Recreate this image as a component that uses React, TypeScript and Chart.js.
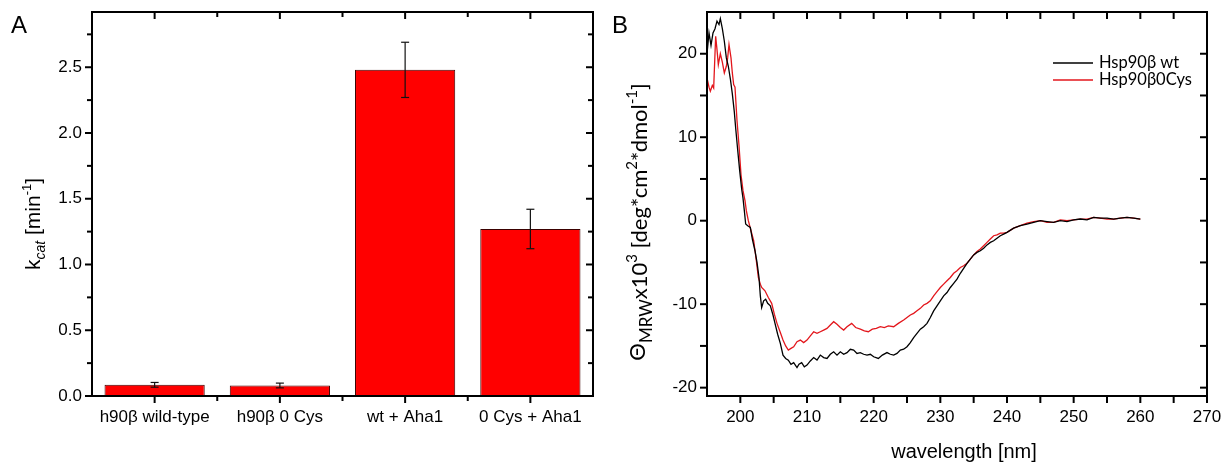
import React, { useEffect, useRef } from "react";
import { Chart, registerables } from "chart.js";

Chart.register(...registerables);

// ---------- Panel A data ----------
const categories = ["h90β wild-type", "h90β 0 Cys", "wt + Aha1", "0 Cys + Aha1"];
const kcatValues = [0.085, 0.08, 2.48, 1.27];
const kcatErrors = [0.018, 0.018, 0.21, 0.15];
const kcatMajorTicks = [0, 0.5, 1.0, 1.5, 2.0, 2.5];
const kcatMinorTicks = [0.25, 0.75, 1.25, 1.75, 2.25, 2.75];

// ---------- Panel B data ----------
const wtWavelength = [
  195.0, 195.3, 195.6, 195.9, 196.2, 196.5, 196.8, 197.0, 197.3, 197.6, 197.9, 198.2, 198.5, 198.8,
  199.1, 199.3, 199.6, 199.9, 200.2, 200.4, 200.6, 200.8, 201.1, 201.5, 201.8, 202.2, 202.5, 202.8,
  203.0, 203.2, 203.5, 203.8, 204.1, 204.5, 204.9, 205.2, 205.6, 206.0, 206.4, 206.8, 207.2, 207.6,
  208.0, 208.5, 208.8, 209.2, 209.6, 210.0, 210.5, 211.0, 211.5, 212.0, 212.5, 213.0, 213.5, 214.0,
  214.5, 215.0, 215.5, 216.0, 216.5, 217.0, 217.5, 218.0, 218.5, 219.0, 219.5, 220.0, 220.7, 221.3,
  222.0, 222.5, 223.0, 223.5, 224.0, 224.5, 225.0, 225.5, 226.0, 226.5, 227.0, 227.5, 228.0, 228.5,
  229.0, 229.5, 230.0, 230.5, 231.0, 231.5, 232.0, 232.5, 233.0, 233.5, 234.0, 234.5, 235.0, 235.5,
  236.0, 236.5, 237.0, 237.5, 238.0, 238.5, 239.0, 239.5, 240.0, 241.0, 242.0, 243.0, 244.0, 245.0,
  246.0, 247.0, 248.0, 249.0, 250.0, 251.0, 252.0, 253.0, 254.0, 255.0, 256.0, 257.0, 258.0, 259.0,
  260.0,
];
const wtTheta = [
  20.0, 22.5, 21.0, 22.5, 23.0, 23.9, 23.5, 24.2, 23.0, 21.5, 19.5, 18.5, 17.0, 15.2,
  13.0, 11.1, 8.5, 6.0, 3.8, 2.7, 1.2, -0.4, -0.6, -0.8, -2.2, -3.6, -5.0, -6.8,
  -9.0, -10.4, -9.6, -9.4, -9.9, -10.2, -11.3, -12.3, -13.6, -14.7, -16.1, -16.5, -16.7, -17.2,
  -17.0, -17.6, -17.2, -17.0, -17.5, -17.3, -16.8, -16.4, -16.7, -16.1, -16.4, -16.5, -16.0, -15.7,
  -16.1, -15.7, -16.0, -15.8, -15.4, -15.5, -15.9, -15.8, -16.0, -16.1, -16.0, -16.3, -16.5, -16.1,
  -15.8, -16.0, -16.1, -15.9, -15.5, -15.4, -15.1, -14.6, -14.0, -13.5, -13.0, -12.7, -12.3, -11.6,
  -10.8, -10.2, -9.6, -9.0, -8.6, -8.0, -7.5, -7.0, -6.3, -5.7, -5.1, -4.6, -4.1, -3.8,
  -3.6, -3.3, -2.9, -2.6, -2.4, -2.1, -1.8, -1.6, -1.4, -0.9, -0.6, -0.4, -0.2, 0.0,
  -0.1, -0.2, 0.0, -0.1, 0.1, 0.2, 0.1, 0.4, 0.3, 0.3, 0.2, 0.3, 0.4, 0.3,
  0.2,
];
const cysWavelength = [
  195.0, 195.3, 195.5, 195.8, 196.0, 196.3, 196.5, 196.7, 197.0, 197.3, 197.6, 197.9, 198.1, 198.3,
  198.6, 198.8, 199.0, 199.2, 199.5, 199.8, 200.1, 200.4, 200.7, 200.9, 201.2, 201.6, 202.0, 202.4,
  202.7, 203.0, 203.2, 203.7, 204.2, 204.7, 205.1, 205.5, 206.0, 206.4, 206.8, 207.2, 207.6, 208.0,
  208.5, 209.0, 209.5, 210.0, 210.5, 211.0, 211.5, 212.0, 212.5, 213.0, 213.5, 214.0, 214.5, 215.0,
  215.5, 216.0, 216.7, 217.3, 218.0, 218.6, 219.2, 219.8, 220.4, 221.0, 221.6, 222.2, 223.0, 223.7,
  224.5, 225.0, 225.5, 226.0, 226.5, 227.0, 227.5, 228.0, 228.5, 229.0, 229.5, 230.0, 230.5, 231.0,
  231.5, 232.0, 232.5, 233.0, 233.5, 234.0, 234.5, 235.0, 235.5, 236.0, 236.5, 237.0, 237.5, 238.0,
  238.5, 239.0, 239.5, 240.0, 241.0, 242.0, 243.0, 244.0, 245.0, 246.0, 247.0, 248.0, 249.0, 250.0,
  251.0, 252.0, 253.0, 254.0, 255.0, 256.0, 257.0, 258.0, 259.0, 260.0,
];
const cysTheta = [
  17.1, 16.0, 15.5, 16.2, 15.9, 22.1, 20.5, 18.7, 20.0, 19.0, 17.7, 18.5, 19.5, 21.1,
  19.5, 17.7, 16.3, 16.0, 12.0, 9.0, 5.5, 3.6, 2.4, 1.2, 0.0, -1.2, -2.4, -4.8,
  -6.8, -7.6, -8.0, -8.4, -9.2, -9.9, -11.2, -12.3, -13.4, -14.3, -15.0, -15.5, -15.3, -15.1,
  -14.5, -14.3, -14.6, -14.3, -13.8, -13.3, -13.5, -13.3, -13.1, -12.9, -12.5, -12.1, -12.4, -12.8,
  -13.1, -12.7, -12.3, -12.8, -13.0, -13.2, -13.3, -13.0, -12.9, -12.7, -12.8, -12.6, -12.7, -12.3,
  -11.9, -11.6, -11.3, -11.1, -10.8, -10.5, -10.1, -9.9, -9.6, -9.0, -8.5, -8.0, -7.6, -7.2,
  -6.8, -6.3, -6.0, -5.6, -5.4, -5.1, -4.6, -4.1, -3.7, -3.4, -3.0, -2.6, -2.2, -1.8,
  -1.7, -1.5, -1.5, -1.4, -0.9, -0.6, -0.3, -0.1, 0.0, -0.2, -0.2, 0.1, 0.0, 0.1,
  0.2, 0.2, 0.4, 0.3, 0.2, 0.2, 0.3, 0.4, 0.3, 0.2,
];
const cdXMajorTicks = [200, 210, 220, 230, 240, 250, 260, 270];
const cdXMinorTicks = [205, 215, 225, 235, 245, 255, 265];
const cdYMajorTicks = [-20, -10, 0, 10, 20];
const cdYMinorTicks = [-15, -5, 5, 15];
const seriesLabels = ["Hsp90β wt", "Hsp90β0Cys"];
const seriesColors = ["#000000", "#e3161c"];

const ARIAL = '"Liberation Sans", Arial, sans-serif';
const CALIBRI = 'Lato, "Open Sans", sans-serif';

type Part = { t: string; f: string; dy: number };

function drawRich(ctx: CanvasRenderingContext2D, parts: Part[], cx: number, cy: number, rotate: boolean) {
  ctx.save();
  ctx.translate(cx, cy);
  if (rotate) ctx.rotate(-Math.PI / 2);
  ctx.fillStyle = "#000";
  ctx.textBaseline = "alphabetic";
  ctx.textAlign = "left";
  let total = 0;
  const widths = parts.map((p) => {
    ctx.font = p.f;
    const w = ctx.measureText(p.t).width;
    total += w;
    return w;
  });
  let x = -total / 2;
  parts.forEach((p, i) => {
    ctx.font = p.f;
    ctx.fillText(p.t, x, p.dy);
    x += widths[i];
  });
  ctx.restore();
}

function line(ctx: CanvasRenderingContext2D, x1: number, y1: number, x2: number, y2: number) {
  ctx.beginPath();
  ctx.moveTo(x1, y1);
  ctx.lineTo(x2, y2);
  ctx.stroke();
}

const barFramePlugin = {
  id: "barFrame",
  afterDatasetsDraw(chart: any) {
    const { ctx } = chart;
    const y = chart.scales.y;
    const meta = chart.getDatasetMeta(0);
    ctx.save();
    ctx.strokeStyle = "#111";
    ctx.lineWidth = 1.2;
    kcatValues.forEach((v, i) => {
      const bx = meta.data[i].x;
      const yt = y.getPixelForValue(v + kcatErrors[i]);
      const yb = y.getPixelForValue(v - kcatErrors[i]);
      line(ctx, bx, yt, bx, yb);
      line(ctx, bx - 4, yt, bx + 4, yt);
      line(ctx, bx - 4, yb, bx + 4, yb);
    });
    ctx.restore();
  },
  afterDraw(chart: any) {
    const { ctx, chartArea } = chart;
    const { left, right, top, bottom } = chartArea;
    const x = chart.scales.x;
    const y = chart.scales.y;
    ctx.save();
    ctx.strokeStyle = "#000";
    ctx.lineWidth = 2;
    ctx.strokeRect(left, top, right - left, bottom - top);
    kcatMajorTicks.forEach((v) => {
      const py = y.getPixelForValue(v);
      line(ctx, left - 7, py, left, py);
      line(ctx, right - 7, py, right, py);
    });
    kcatMinorTicks.forEach((v) => {
      const py = y.getPixelForValue(v);
      line(ctx, left - 5, py, left, py);
      line(ctx, right - 5, py, right, py);
    });
    categories.forEach((_, i) => {
      const px = x.getPixelForValue(i);
      line(ctx, px, bottom, px, bottom + 7);
      line(ctx, px, top, px, top + 7);
      if (i < categories.length - 1) {
        const mx = (x.getPixelForValue(i) + x.getPixelForValue(i + 1)) / 2;
        line(ctx, mx, bottom, mx, bottom + 5);
        line(ctx, mx, top, mx, top + 5);
      }
    });
    ctx.restore();
    // panel letter
    ctx.save();
    ctx.fillStyle = "#000";
    ctx.font = `24px ${ARIAL}`;
    ctx.textBaseline = "alphabetic";
    ctx.fillText("A", 11, 33);
    ctx.restore();
    drawRich(
      ctx,
      [
        { t: "k", f: `21px ${ARIAL}`, dy: 0 },
        { t: "cat", f: `italic 14px ${ARIAL}`, dy: 5 },
        { t: " [min", f: `21px ${ARIAL}`, dy: 0 },
        { t: "-1", f: `13px ${ARIAL}`, dy: -9 },
        { t: "]", f: `21px ${ARIAL}`, dy: 0 },
      ],
      40,
      224,
      true
    );
  },
};

const cdFramePlugin = {
  id: "cdFrame",
  afterDraw(chart: any) {
    const { ctx, chartArea } = chart;
    const { left, right, top, bottom } = chartArea;
    const x = chart.scales.x;
    const y = chart.scales.y;
    ctx.save();
    ctx.strokeStyle = "#000";
    ctx.lineWidth = 2;
    ctx.strokeRect(left, top, right - left, bottom - top);
    [...cdYMajorTicks, ...cdYMinorTicks].forEach((v) => {
      const py = y.getPixelForValue(v);
      line(ctx, left - 7, py, left, py);
      line(ctx, right - 7, py, right, py);
    });
    [...cdXMajorTicks, ...cdXMinorTicks].forEach((v) => {
      const px = x.getPixelForValue(v);
      line(ctx, px, bottom, px, bottom + 7);
      line(ctx, px, top, px, top + 7);
    });
    ctx.restore();

    // legend
    ctx.save();
    const ds = chart.data.datasets;
    ds.forEach((d: any, i: number) => {
      const ly = 63 + i * 17;
      ctx.strokeStyle = d.borderColor;
      ctx.lineWidth = 1.3;
      line(ctx, 453, ly, 493, ly);
      ctx.fillStyle = "#000";
      ctx.font = `16.5px ${CALIBRI}`;
      ctx.textBaseline = "middle";
      ctx.textAlign = "left";
      ctx.fillText(d.label, 499, ly);
    });
    ctx.restore();

    // panel letter + titles
    ctx.save();
    ctx.fillStyle = "#000";
    ctx.font = `24px ${ARIAL}`;
    ctx.textBaseline = "alphabetic";
    ctx.fillText("B", 12, 33);
    ctx.font = `20px ${ARIAL}`;
    ctx.textAlign = "center";
    ctx.textBaseline = "middle";
    ctx.fillText("wavelength [nm]", 364, 452);
    ctx.restore();

    const M = `22px ${CALIBRI}`;
    const S = `15px ${CALIBRI}`;
    drawRich(
      ctx,
      [
        { t: "Θ", f: M, dy: -2 },
        { t: "MRW", f: `17px ${CALIBRI}`, dy: 5 },
        { t: "x10", f: M, dy: 0 },
        { t: "3", f: S, dy: -10 },
        { t: " [deg*cm", f: M, dy: 0 },
        { t: "2", f: S, dy: -10 },
        { t: "*dmol", f: M, dy: 0 },
        { t: "-1", f: S, dy: -10 },
        { t: "]", f: M, dy: 0 },
      ],
      47,
      222,
      true
    );
  },
};

const noPadY = (w: number) => (s: any) => {
  s.width = w;
  s.paddingTop = 0;
  s.paddingBottom = 0;
};
const noPadX = (h: number) => (s: any) => {
  s.height = h;
  s.paddingLeft = 0;
  s.paddingRight = 0;
};

export default function App() {
  const leftRef = useRef<HTMLCanvasElement>(null);
  const rightRef = useRef<HTMLCanvasElement>(null);

  useEffect(() => {
    document.body.style.margin = "0";
    const tickFont = { family: ARIAL, size: 17 };

    const barChart = new Chart(leftRef.current!, {
      type: "bar",
      data: {
        labels: categories,
        datasets: [
          {
            label: "kcat",
            data: kcatValues,
            backgroundColor: "#ff0000",
            borderColor: "#3a0000",
            borderWidth: 1,
            barPercentage: 0.8,
            categoryPercentage: 1.0,
          },
        ],
      },
      options: {
        responsive: false,
        animation: false,
        layout: { padding: { left: 0, right: 7, top: 12, bottom: 0 } },
        plugins: { legend: { display: false }, tooltip: { enabled: false } },
        scales: {
          x: {
            grid: { display: false, drawTicks: false },
            border: { display: false },
            ticks: { font: tickFont, color: "#000", padding: 11, maxRotation: 0, autoSkip: false },
            afterFit: noPadX(67),
          },
          y: {
            min: 0,
            max: 2.92,
            grid: { display: false, drawTicks: false },
            border: { display: false },
            afterBuildTicks: (s: any) => {
              s.ticks = kcatMajorTicks.map((v) => ({ value: v }));
            },
            ticks: {
              font: tickFont,
              color: "#000",
              padding: 10,
              callback: (v: any) => Number(v).toFixed(1),
            },
            afterFit: noPadY(92),
          },
        },
      },
      plugins: [barFramePlugin],
    });

    const lineChart = new Chart(rightRef.current!, {
      type: "line",
      data: {
        datasets: [
          {
            label: seriesLabels[0],
            data: wtWavelength.map((w, i) => ({ x: w, y: wtTheta[i] })),
            borderColor: seriesColors[0],
            borderWidth: 1.3,
            pointRadius: 0,
            tension: 0,
            fill: false,
          },
          {
            label: seriesLabels[1],
            data: cysWavelength.map((w, i) => ({ x: w, y: cysTheta[i] })),
            borderColor: seriesColors[1],
            borderWidth: 1.3,
            pointRadius: 0,
            tension: 0,
            fill: false,
          },
        ],
      },
      options: {
        responsive: false,
        animation: false,
        layout: { padding: { left: 0, right: 21, top: 12, bottom: 0 } },
        plugins: { legend: { display: false }, tooltip: { enabled: false } },
        scales: {
          x: {
            type: "linear",
            min: 195,
            max: 270,
            grid: { display: false, drawTicks: false },
            border: { display: false },
            afterBuildTicks: (s: any) => {
              s.ticks = cdXMajorTicks.map((v) => ({ value: v }));
            },
            ticks: { font: tickFont, color: "#000", padding: 11, maxRotation: 0, autoSkip: false },
            afterFit: noPadX(67),
          },
          y: {
            min: -21,
            max: 25,
            grid: { display: false, drawTicks: false },
            border: { display: false },
            afterBuildTicks: (s: any) => {
              s.ticks = cdYMajorTicks.map((v) => ({ value: v }));
            },
            ticks: { font: tickFont, color: "#000", padding: 10 },
            afterFit: noPadY(107),
          },
        },
      },
      plugins: [cdFramePlugin],
    });

    return () => {
      barChart.destroy();
      lineChart.destroy();
    };
  }, []);

  return (
    <div style={{ position: "absolute", left: 0, top: 0, width: 1228, height: 463, background: "#fff" }}>
      <canvas ref={leftRef} width={600} height={463} style={{ position: "absolute", left: 0, top: 0 }} />
      <canvas ref={rightRef} width={628} height={463} style={{ position: "absolute", left: 600, top: 0 }} />
    </div>
  );
}
